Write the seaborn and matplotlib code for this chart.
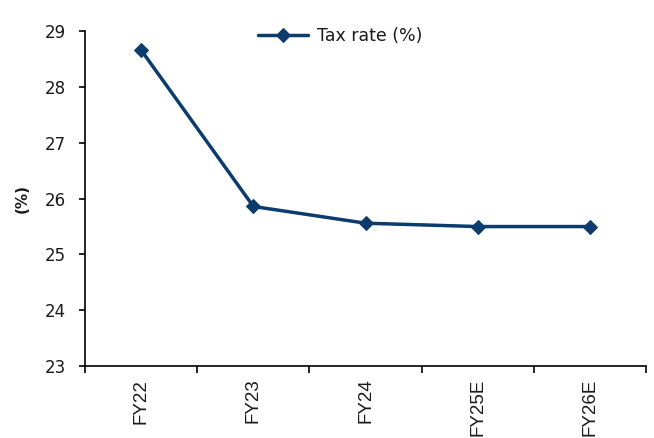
import matplotlib
matplotlib.use("Agg")
import matplotlib.pyplot as plt
import seaborn as sns
import pandas as pd
from matplotlib.ticker import FixedLocator

years = ["FY22", "FY23", "FY24", "FY25E", "FY26E"]
tax_rate = [28.66, 25.86, 25.56, 25.50, 25.50]
y_ticks = [23, 24, 25, 26, 27, 28, 29]
series_name = "Tax rate (%)"

sns.set_theme(style="white")
plt.rcParams["font.family"] = ["DejaVu Sans"]

navy = "#0b3c6d"
ink = "#1a1a1a"
df = pd.DataFrame({"year": years, "rate": tax_rate})
df["pos"] = range(len(years))

fig = plt.figure(figsize=(6.54, 4.38), dpi=100)
ax = fig.add_axes([0.130, 0.164, 0.858, 0.765])

sns.lineplot(data=df, x="pos", y="rate", ax=ax, color=navy, linewidth=2.5,
             marker="D", markersize=7, markeredgecolor=navy, label=series_name,
             sort=False)

ax.set_xlim(-0.5, len(years) - 0.5)
ax.set_ylim(y_ticks[0], y_ticks[-1])
ax.set_yticks(y_ticks)
ax.set_yticklabels([str(t) for t in y_ticks], fontsize=12, color=ink)

ax.set_xticks(range(len(years)))
ax.set_xticklabels(years, rotation=90, fontsize=13.5, family="Liberation Sans", color=ink)
ax.xaxis.set_minor_locator(FixedLocator([i - 0.5 for i in range(len(years) + 1)]))
ax.tick_params(axis="x", which="major", length=0, pad=9)
ax.tick_params(axis="x", which="minor", length=5, width=1.2, color="black", bottom=True)
ax.tick_params(axis="y", length=4.5, width=1.2, color="black", left=True, pad=9)

ax.set_xlabel("")
ax.set_ylabel("(%)", fontsize=11, fontweight="bold", color=ink, labelpad=11)

for side in ["top", "right"]:
    ax.spines[side].set_visible(False)
for side in ["left", "bottom"]:
    ax.spines[side].set_color("black")
    ax.spines[side].set_linewidth(1.2)

leg = ax.legend(loc="center left", bbox_to_anchor=(0.370, 0.918),
                bbox_transform=fig.transFigure, frameon=False,
                fontsize=12.5, handlelength=2.9, handletextpad=0.5)
for t in leg.get_texts():
    t.set_color(ink)

fig.savefig("out.png", dpi=100)
